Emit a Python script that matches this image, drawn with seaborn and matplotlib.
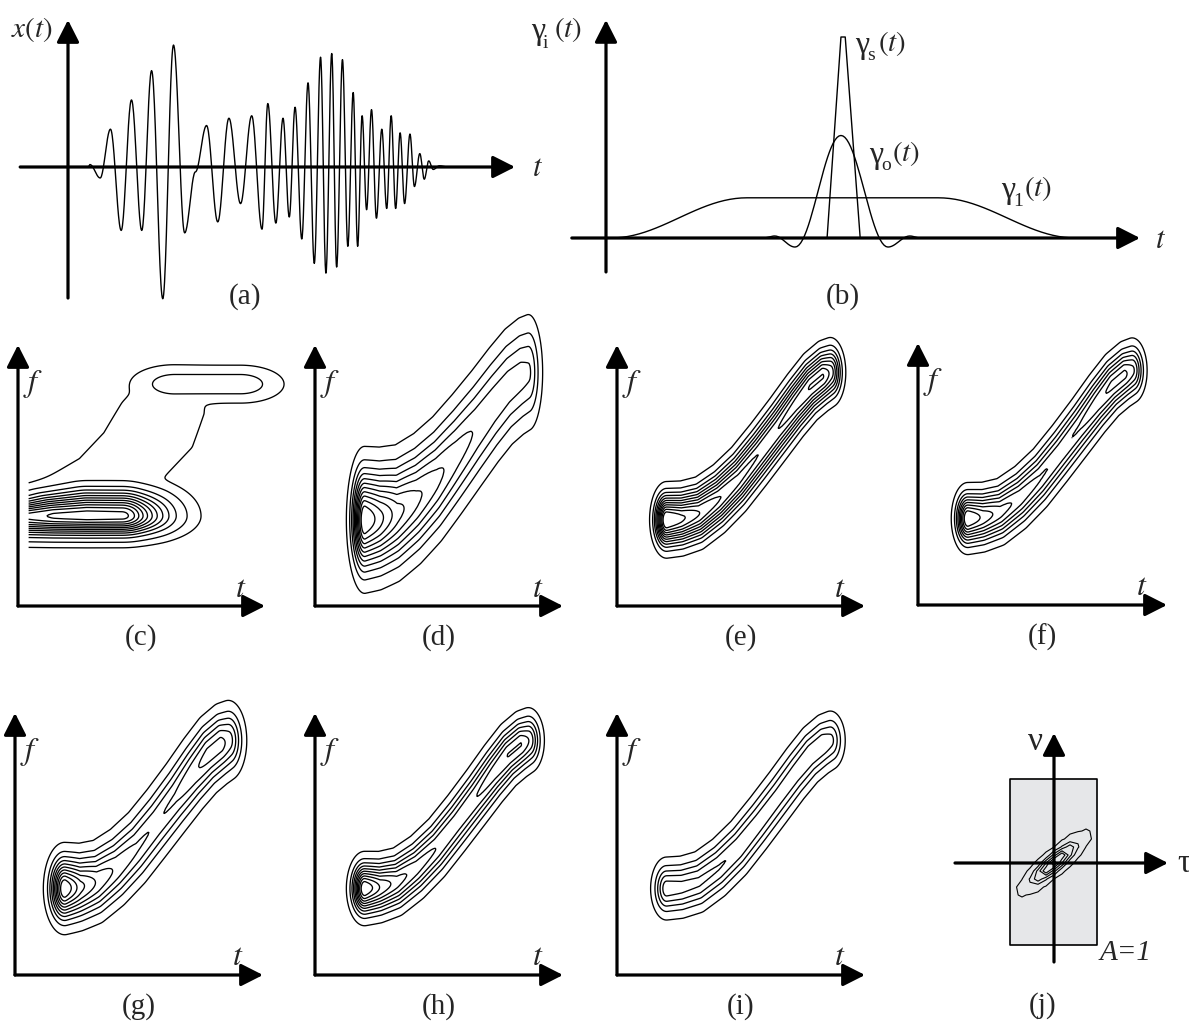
import numpy as np
import matplotlib
matplotlib.use("Agg")
import matplotlib.pyplot as plt
import seaborn as sns

sns.set_style("white")
plt.rcParams["font.family"] = ["Liberation Serif", "DejaVu Serif"]
plt.rcParams["mathtext.fontset"] = "stix"

W, H = 1189, 1023

# ---------------- data ----------------
# (a) extrema of the test signal x(t): time (0 = x-axis origin, 100 = arrow tip), amplitude
sig_t = [4.5, 4.9, 7.2, 9.5, 11.9, 14.2, 16.5, 18.7, 21.2, 23.6, 26.1, 28.5, 31.0, 33.5, 36.0,
         38.6, 41.1, 43.4, 44.7, 46.5, 48.1, 49.5, 50.8, 52.3, 53.7, 55.1, 56.5, 57.7, 59.0,
         60.1, 61.4, 62.6, 63.8, 64.8, 65.8, 66.8, 67.9, 69.0, 70.2, 71.3, 72.3, 73.3, 74.3,
         75.3, 76.5, 77.5, 78.7, 79.7, 80.7, 81.7, 83.1, 85.0]
sig_a = [0, 2, -9, 31, -52, 55, -52, 79, -108, 100, -54, -4, 34, -45, 40,
         -30, 42, -51, 52, -46, 40, -41, 49, -59, 69, -79, 90, -87, 93,
         -82, 88, -65, 61, -65, 42, -35, 47, -42, 31, -34, 42, -34, 28,
         -30, 27, -16, 11, -10, 5, -2, 1, 0]

# (b) smoothing kernels: knot times and values
g1_t = [0.9, 26.4, 62.2, 88.0]
g1_v = [0.0, 0.20, 0.20, 0.0]
go_t = [29.4, 31.6, 35.4, 44.0, 52.8, 56.9, 58.8]
go_v = [0.0, 0.01, -0.045, 0.51, -0.045, 0.01, 0.0]
gs_t = [41.4, 44.0, 44.8, 47.6]
gs_v = [0.0, 1.0, 1.0, 0.0]

# (c) long-window spectrogram components
c_low_t = [-0.12, 0.05, 0.15, 0.28, 0.42, 0.48, 0.53, 0.57]
c_low_f = [0.345, 0.345, 0.345, 0.345, 0.345, 0.345, 0.345, 0.345]
c_low_a = [0.78, 0.90, 0.97, 1.0, 0.985, 0.60, 0.20, 0.0]
c_low_sup = [0.035, 0.037, 0.05, 0.06, 0.06, 0.06, 0.06, 0.06]
c_mid_t = [0.22, 0.40, 0.52, 0.58, 0.62]
c_mid_f = [0.40, 0.50, 0.62, 0.74, 0.82]
c_mid_a = [0.05, 0.05, 0.05, 0.045, 0.035]
c_high_t = [0.635, 0.77, 0.90]
c_high_f = [0.85, 0.85, 0.85]
c_high_a = [0.12, 0.12, 0.12]
c_levels = [0.025] + list(np.round(np.linspace(0.08, 0.95, 11), 3))

# (d)-(i): common chirp ridge and per-distribution energy along it
ridge_t = [0.20, 0.26, 0.33, 0.41, 0.49, 0.57, 0.65, 0.72, 0.78, 0.83, 0.86]
ridge_f = [0.33, 0.335, 0.355, 0.41, 0.485, 0.58, 0.68, 0.77, 0.84, 0.88, 0.895]
amp_d = [1.0, 0.85, 0.68, 0.58, 0.50, 0.43, 0.38, 0.36, 0.35, 0.34, 0.32]
amp_e = [1.0, 0.90, 0.80, 0.72, 0.66, 0.63, 0.63, 0.67, 0.72, 0.72, 0.60]
amp_f = [1.0, 0.85, 0.72, 0.64, 0.58, 0.56, 0.58, 0.64, 0.70, 0.70, 0.60]
amp_g = [1.0, 0.75, 0.60, 0.50, 0.44, 0.42, 0.44, 0.50, 0.56, 0.56, 0.48]
amp_h = [1.0, 0.80, 0.66, 0.57, 0.52, 0.50, 0.52, 0.57, 0.62, 0.62, 0.52]
amp_i = [1.0, 0.95, 0.92, 0.89, 0.86, 0.82, 0.80, 0.82, 0.86, 0.86, 0.75]
spread = {"d": (0.030, 0.115), "e": (0.028, 0.060), "f": (0.028, 0.058),
          "g": (0.035, 0.072), "h": (0.030, 0.058), "i": (0.030, 0.056)}
levels = {"d": np.linspace(0.05, 0.90, 11), "e": np.linspace(0.05, 0.88, 11),
          "f": np.linspace(0.06, 0.88, 9), "g": np.linspace(0.05, 0.90, 10),
          "h": np.linspace(0.05, 0.90, 10), "i": np.linspace(0.10, 0.88, 5)}

# (j) ambiguity-domain kernel support and signal ambiguity
rect_tau = [-44, 43]
rect_nu = [-82, 84]
amb_angle = 41.0
amb_len = 20.0
amb_wid = 5.0
amb_levels = [0.05, 0.25, 0.4, 0.55, 0.7, 0.85]

# ---------------- helpers ----------------
fig = plt.figure(figsize=(W / 100, H / 100), dpi=100)


def make_axes(ox, oy, sx, sy, x0, x1, y_top, y_bot):
    ax = fig.add_axes([x0 / W, 1 - y_bot / H, (x1 - x0) / W, (y_bot - y_top) / H])
    ax.set_xlim((x0 - ox) / sx, (x1 - ox) / sx)
    ax.set_ylim((oy - y_bot) / sy, (oy - y_top) / sy)
    ax.axis("off")
    ax.patch.set_visible(False)
    return ax


def arrow(ax, x0, y0, x1, y1):
    ax.annotate("", xy=(x1, y1), xytext=(x0, y0), annotation_clip=False,
                arrowprops=dict(arrowstyle="-|>,head_length=0.75,head_width=0.38",
                                lw=2.3, color="k", shrinkA=0, shrinkB=0,
                                mutation_scale=18))


def ftext(x, y, s, size=18, ha="center", **kw):
    fig.text(x / W, 1 - y / H, s, ha=ha, va="center", fontsize=size, **kw)


def gamma_label(x0, yc, sub):
    ftext(x0, yc, "γ", size=23, ha="left")
    ftext(x0 + 12, yc + 11, sub, size=14, ha="left")
    ftext(x0 + 23, yc - 2, r"$(t)$", size=21, ha="left")


def cos_curve(tk, vk, n=24):
    xs, ys = [], []
    for i in range(len(tk) - 1):
        s = np.linspace(0, 1, n, endpoint=False)
        w = (1 - np.cos(np.pi * s)) / 2
        xs.append(tk[i] + (tk[i + 1] - tk[i]) * s)
        ys.append(vk[i] + (vk[i + 1] - vk[i]) * w)
    xs.append([tk[-1]])
    ys.append([vk[-1]])
    return np.concatenate(xs), np.concatenate(ys)


def ridge_field(T, F, segments, p=6.0):
    TT, FF = np.meshgrid(T, F)
    acc = np.zeros_like(TT)
    for kt, kf, ka, st, sfu, sfd in segments:
        n = len(kt)
        u = np.linspace(0, n - 1, 260)
        idx = np.arange(n)
        pt = np.interp(u, idx, kt)
        pf = np.interp(u, idx, kf)
        pa = np.interp(u, idx, ka)
        pst = np.interp(u, idx, np.broadcast_to(st, n))
        psu = np.interp(u, idx, np.broadcast_to(sfu, n))
        psd = np.interp(u, idx, np.broadcast_to(sfd, n))
        Z = np.zeros_like(TT)
        for t0, f0, a0, s_t, s_u, s_d in zip(pt, pf, pa, pst, psu, psd):
            if a0 <= 0:
                continue
            df = FF - f0
            sf = np.where(df > 0, s_u, s_d)
            z = a0 * np.exp(-0.5 * (((TT - t0) / s_t) ** 2 + (df / sf) ** 2))
            np.maximum(Z, z, out=Z)
        acc += Z ** p
    Z = acc ** (1.0 / p)
    return Z / Z.max()


# ---------------- (a) ----------------
axa = make_axes(68, 167, 4.47, 1.22, 5, 535, 5, 310)
xa, ya = cos_curve(sig_t, sig_a)
xa = np.concatenate([[-7.4], xa, [87.0]])
ya = np.concatenate([[0.0], ya, [0.0]])
sns.lineplot(x=xa, y=ya, ax=axa, color="k", linewidth=1.0, estimator=None, sort=False)
arrow(axa, -10.7, 0, 100, 0)
arrow(axa, 0, -107.4, 0, 120.5)
ftext(32, 30, r"$x(t)$", size=21)
ftext(538, 168, r"$t$", size=22)
ftext(245, 297, "(a)", size=21)

# ---------------- (b) ----------------
axb = make_axes(606, 238, 5.34, 201, 560, 1185, 5, 310)
for kt, kv, smooth in [(g1_t, g1_v, True), (go_t, go_v, True), (gs_t, gs_v, False)]:
    if smooth:
        xb, yb = cos_curve(kt, kv)
    else:
        xb, yb = np.array(kt), np.array(kv)
    sns.lineplot(x=xb, y=yb, ax=axb, color="k", linewidth=1.0, estimator=None, sort=False)
arrow(axb, -6.4, 0, 100, 0)
arrow(axb, 0, -0.169, 0, 1.085)
gamma_label(531, 32, "i")
gamma_label(855, 45, "s")
gamma_label(869, 155, "o")
gamma_label(1001, 190, "1")
ftext(1161, 240, r"$t$", size=22)
ftext(843, 297, "(b)", size=21)

# ---------------- (c)-(i) ----------------
panels = [
    ("c", 18, 606, 247, 261),
    ("d", 315, 606, 248, 261),
    ("e", 617, 606, 248, 261),
    ("f", 918, 605, 249, 262),
    ("g", 15, 975, 248, 262),
    ("h", 315, 975, 248, 262),
    ("i", 617, 975, 248, 262),
]
amps = {"d": amp_d, "e": amp_e, "f": amp_f, "g": amp_g, "h": amp_h, "i": amp_i}

for key, ox, oy, w, h in panels:
    ax = make_axes(ox, oy, w, h, ox - 20, ox + w + 40, oy - h - 45, oy + 20)
    if key == "c":
        T = np.linspace(0.043, 1.25, 320)
        F = np.linspace(-0.05, 1.2, 320)
        segs = [(c_low_t, c_low_f, c_low_a, 0.10, c_low_sup, 0.045),
                (c_mid_t, c_mid_f, c_mid_a, 0.16, 0.09, 0.05),
                (c_high_t, c_high_f, c_high_a, 0.10, 0.041, 0.041)]
        Z = ridge_field(T, F, segs, p=4.0)
        lv = c_levels
    else:
        T = np.linspace(-0.05, 1.25, 320)
        F = np.linspace(-0.12, 1.35, 340)
        st, sf = spread[key]
        Z = ridge_field(T, F, [(ridge_t, ridge_f, amps[key], st, sf, sf)])
        lv = levels[key]
    ax.contour(T, F, Z, levels=lv, colors="k", linewidths=0.95)
    arrow(ax, 0, 0, 1, 0)
    arrow(ax, 0, 0, 0, 1)
    ftext(ox + 0.06 * w, oy - 0.85 * h, r"$f$", size=23)
    ftext(ox + 0.90 * w, oy - 0.065 * h, r"$t$", size=23)
    ftext(ox + 0.50 * w, oy + 32, "(%s)" % key, size=21)

# ---------------- (j) ----------------
axj = make_axes(1054, 863, 1, 1, 950, 1189, 700, 1000)
axj.fill_between(rect_tau, [rect_nu[0]] * 2, [rect_nu[1]] * 2, facecolor="#e6e7e9",
                 edgecolor="k", linewidth=1.2)
tau = np.arange(-64, 65, 8.0)
nu = np.arange(-64, 65, 8.0)
TT, NN = np.meshgrid(tau, nu)
ang = np.deg2rad(amb_angle)
uu = TT * np.cos(ang) + NN * np.sin(ang)
vv = -TT * np.sin(ang) + NN * np.cos(ang)
A = np.exp(-0.5 * ((uu / amb_len) ** 2 + (vv / amb_wid) ** 2))
axj.contour(tau, nu, A, levels=amb_levels, colors="k", linewidths=0.8)
arrow(axj, -99, 0, 114, 0)
arrow(axj, 0, -99, 0, 130)
ftext(1035, 742, "ν", size=24)
ftext(1184, 864, "τ", size=24)
ftext(1126, 953, "A=1", size=21, style="italic")
ftext(1043, 1006, "(j)", size=21)

fig.savefig("out.png", dpi=100)
